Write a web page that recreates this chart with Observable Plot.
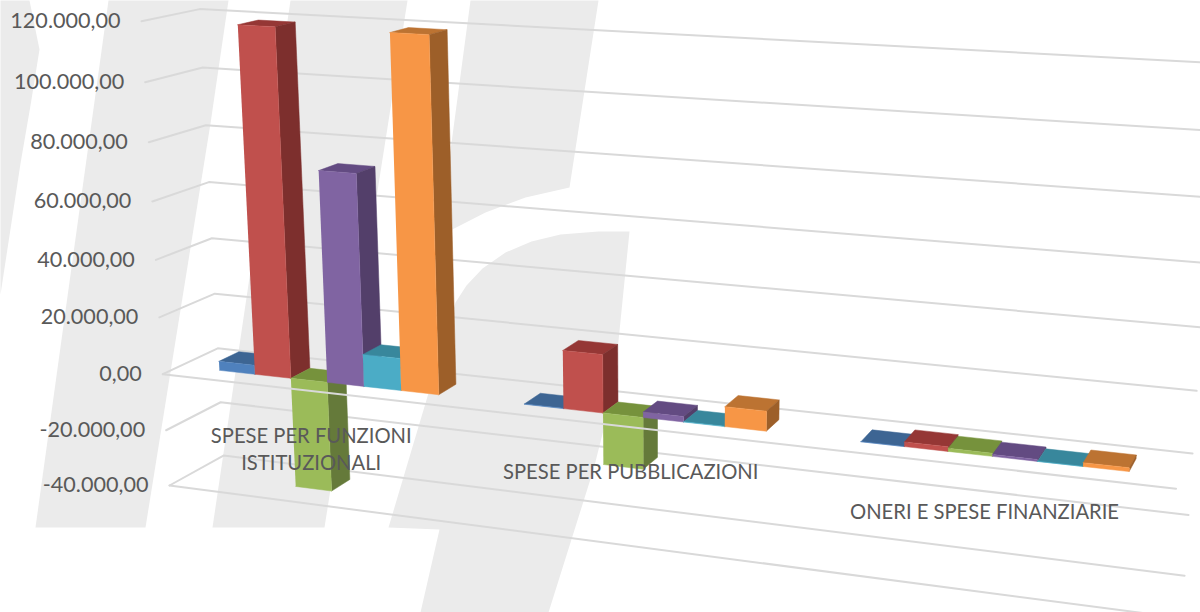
<!DOCTYPE html>
<html>
<head>
<meta charset="utf-8">
<style>html,body{margin:0;padding:0;background:#fff}svg{display:block}</style>
<script src="https://cdn.jsdelivr.net/npm/d3@7"></script>
<script src="https://cdn.jsdelivr.net/npm/@observablehq/plot@0.6"></script>
</head>
<body>
<div id="chart"></div>
<script>
// ---- data ----
const categories = ["SPESE PER FUNZIONI\nISTITUZIONALI", "SPESE PER PUBBLICAZIONI", "ONERI E SPESE FINANZIARIE"];
const tickValues = [120000, 100000, 80000, 60000, 40000, 20000, 0, -20000, -40000];
const serie1 = [3200, 100, 0];
const serie2 = [119000, 19600, 1500];
const serie3 = [-38700, -17500, 1000];
const serie4 = [72500, 1800, 600];
const serie5 = [11100, 100, 0];
const serie6 = [119200, 6600, 1200];
const series = [serie1, serie2, serie3, serie4, serie5, serie6];

// face colours: front, side, top
const frontColors = ["#4f81bd", "#c0504d", "#9bbb59", "#8064a2", "#4bacc6", "#f79646"];
const sideColors  = ["#3a5f8c", "#7d2f2d", "#657a3a", "#533f6a", "#327f94", "#9d5f29"];
const topColors   = ["#3d6593", "#953735", "#76923c", "#634b82", "#38879c", "#bc7332"];

// pale watermark outlines behind the chart
const watermark = [
  [[0,0],[29,0],[39,49],[30,105],[20,163],[0,294]],
  [[108,0],[228,0],[210,123],[145,527],[35,527]],
  [[290,0],[407,0],[324,527],[212,527]],
  [[470,0],[598,0],[569,187],[525,197],[485,212],[438,236],[450,150]],
  [[629,231],[598,231],[560,234],[531,241],[505,252],[482,268],[466,285],[455,302],[388,527],[439,529],[420,612],[548,612],[593,469],[613,390]]
];

// ---- the chart's 3D view: category axis c 0..1, depth d 0..1, value v ----
const vMin = -40000, vMax = 120000;
function project(c, d, v) {
  const w = (v - vMin) / (vMax - vMin);
  const D = 1 - 0.14 * c + 0.0413 * d - 0.054 * w;
  return {
    x: (835 * c + 63.2 * d - 35.6 * w + 169) / D,
    y: (44.6 * c - 11.2 * d - 465.3 * w + 485) / D
  };
}

const barDepth = [0.31, 0.68];
const barWidth = 0.0405;
const faces = [];
function face(id, color, corners) {
  corners.forEach(([c, d, v]) => faces.push({id, color, ...project(c, d, v)}));
}
categories.forEach((_, i) => {
  const center = (i + 0.5) / categories.length;
  series.forEach((s, k) => {
    const c0 = center + (k - 3) * barWidth, c1 = c0 + barWidth;
    const [d0, d1] = barDepth;
    const v = s[i], hi = Math.max(v, 0);
    const id = `${i}-${k}`;
    face(id + "top", topColors[k], [[c0,d0,hi],[c0,d1,hi],[c1,d1,hi],[c1,d0,hi]]);
    face(id + "side", sideColors[k], [[c1,d0,0],[c1,d1,0],[c1,d1,v],[c1,d0,v]]);
    face(id + "front", frontColors[k], [[c0,d0,0],[c1,d0,0],[c1,d0,v],[c0,d0,v]]);
  });
});

const grid = tickValues.flatMap(v => [[0,0,v],[0,1,v],[1,1,v]].map(p => ({v, ...project(...p)})));
const floorFront = (v) => [[0,0,v],[1,0,v]].map(p => ({v, ...project(...p)}));

const fmt = d3.formatLocale({decimal: ",", thousands: ".", grouping: [3], minus: "-"}).format(",.2f");
const tickLabels = tickValues.map(v => ({label: fmt(v), ...project(0, 0, v)}));
const categoryLabels = categories.map((label, i) => ({label, ...project((i + 0.5) / categories.length, 0, 0)}));

const shapes = watermark.flatMap((pts, id) => pts.map(([x, y]) => ({id, x, y})));
const font = "Lato, 'Open Sans', sans-serif";
const gridColor = "#d9d9d9";

const chart = Plot.plot({
  width: 1200, height: 612,
  marginTop: 0, marginRight: 0, marginBottom: 0, marginLeft: 0,
  x: {domain: [0, 1200], range: [0, 1200], axis: null},
  y: {domain: [0, 612], range: [0, 612], axis: null},
  marks: [
    Plot.line(shapes, {x: "x", y: "y", z: "id", fill: "#ebebeb", stroke: null}),
    Plot.line(grid, {x: "x", y: "y", z: "v", stroke: gridColor, strokeWidth: 2}),
    Plot.line(floorFront(vMin), {x: "x", y: "y", stroke: gridColor, strokeWidth: 2}),
    Plot.line(faces, {x: "x", y: "y", z: "id", fill: "color", stroke: "color", strokeWidth: 0.5}),
    Plot.line(floorFront(0), {x: "x", y: "y", stroke: gridColor, strokeWidth: 2}),
    Plot.text(tickLabels, {x: "x", y: "y", text: "label", textAnchor: "end", dx: -21, fontSize: 21.6, fontFamily: font, fill: "#595959"}),
    Plot.text(categoryLabels, {x: "x", y: "y", text: "label", lineAnchor: "top", dy: 32, lineHeight: 1.36, fontSize: 20.2, fontFamily: font, fill: "#595959"})
  ]
});
document.getElementById("chart").append(chart);
</script>
</body>
</html>
